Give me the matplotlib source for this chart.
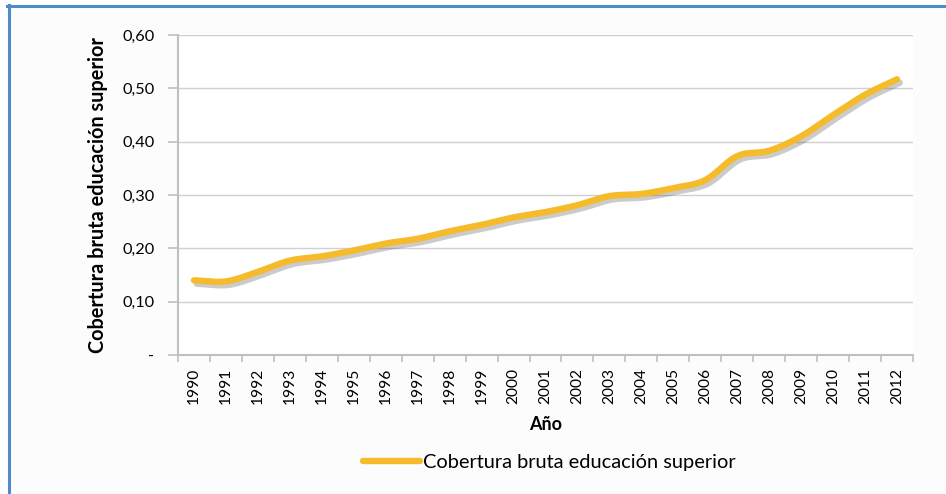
import numpy as np
import matplotlib
matplotlib.use("Agg")
import matplotlib.pyplot as plt
import matplotlib.patheffects as pe
from matplotlib.lines import Line2D
from matplotlib.patches import Rectangle

plt.rcParams['font.family'] = ['Lato', 'DejaVu Sans']

years = [str(y) for y in range(1990, 2013)]
cobertura = [0.140, 0.138, 0.156, 0.177, 0.185, 0.196, 0.209, 0.218, 0.232, 0.244,
             0.258, 0.268, 0.281, 0.298, 0.302, 0.313, 0.328, 0.373, 0.383, 0.410,
             0.450, 0.488, 0.517]
y_ticks = [0.0, 0.1, 0.2, 0.3, 0.4, 0.5, 0.6]
y_ticklabels = ['-', '0,10', '0,20', '0,30', '0,40', '0,50', '0,60']
series_name = 'Cobertura bruta educación superior'
x_label = 'Año'
y_label = 'Cobertura bruta educación superior'


def catmull_rom(x, y, n=20):
    x = np.asarray(x, float)
    y = np.asarray(y, float)
    px = np.concatenate([[2 * x[0] - x[1]], x, [2 * x[-1] - x[-2]]])
    py = np.concatenate([[2 * y[0] - y[1]], y, [2 * y[-1] - y[-2]]])
    xs, ys = [], []
    t = np.linspace(0, 1, n, endpoint=False)
    for i in range(1, len(px) - 2):
        for arr, out in ((px, xs), (py, ys)):
            p0, p1, p2, p3 = arr[i - 1], arr[i], arr[i + 1], arr[i + 2]
            out.append(0.5 * ((2 * p1) + (-p0 + p2) * t +
                              (2 * p0 - 5 * p1 + 4 * p2 - p3) * t ** 2 +
                              (-p0 + 3 * p1 - 3 * p2 + p3) * t ** 3))
    xs.append([x[-1]])
    ys.append([y[-1]])
    return np.concatenate(xs), np.concatenate(ys)


W, H = 946, 494
fig = plt.figure(figsize=(W / 100, H / 100), dpi=100, facecolor='white')

# chart background and blue border
fig.add_artist(Rectangle((7 / W, 0), 1 - 7 / W, 1 - 5 / H, transform=fig.transFigure,
                         facecolor='#fcfcfc', edgecolor='none', zorder=-10))
blue = '#4f8ac9'
fig.add_artist(Line2D([8.5 / W, 8.5 / W], [0, 1 - 5 / H], transform=fig.transFigure,
                      color=blue, lw=2.2))
fig.add_artist(Line2D([7 / W, 1], [1 - 6 / H, 1 - 6 / H], transform=fig.transFigure,
                      color=blue, lw=2.2))

left, right = 178 / W, 913 / W
bottom, top = 1 - 355 / H, 1 - 35 / H
ax = fig.add_axes([left, bottom, right - left, top - bottom])
ax.set_facecolor('white')

x = np.arange(len(years))
sx, sy = catmull_rom(x, cobertura)
ax.plot(sx, sy, color='#f5bb2b', lw=4.6, solid_capstyle='round', zorder=3,
        path_effects=[pe.SimpleLineShadow(offset=(2, -2.5), shadow_color='#555555', alpha=0.3),
                      pe.Normal()])

ax.set_xlim(-0.5, len(years) - 0.5)
ax.set_ylim(0, 0.6)
ax.set_yticks(y_ticks)
ax.set_yticklabels(y_ticklabels, fontsize=11)
ax.yaxis.grid(True, color='#d0d0d0', lw=1)
ax.set_axisbelow(True)

ax.set_xticks(x)
ax.set_xticklabels(years, rotation=90, fontsize=11)
ax.set_xticks(np.arange(-0.5, len(years), 1), minor=True)
ax.tick_params(axis='x', which='major', length=0, pad=9)
ax.tick_params(axis='x', which='minor', length=5, color='#bfbfbf', width=1.2)
ax.tick_params(axis='y', length=7, color='#bfbfbf', width=1.2, pad=10)

for s in ('top', 'right'):
    ax.spines[s].set_visible(False)
for s in ('left', 'bottom'):
    ax.spines[s].set_color('#bfbfbf')
    ax.spines[s].set_linewidth(1.5)

xl = ax.set_xlabel(x_label, fontsize=13, fontweight='bold', labelpad=9)
yl = ax.set_ylabel(y_label, fontsize=14.2, fontweight='bold', labelpad=10)

leg = fig.legend([Line2D([0], [0], color='#f5bb2b', lw=4.6, solid_capstyle='round')],
                 [series_name], loc='center', bbox_to_anchor=(549 / W, 1 - 462 / H),
                 frameon=False, fontsize=14.4, handlelength=2.85, handletextpad=0.15)

# fit text sizes to the reference's measured pixel lengths
fig.canvas.draw()
r = fig.canvas.get_renderer()
xt = ax.get_xticklabels()[0]
yt = ax.get_yticklabels()[1]
fx = 11 * 36 / xt.get_window_extent(r).height
fy = 11 * 32 / yt.get_window_extent(r).width
for t in ax.get_xticklabels():
    t.set_fontsize(fx)
for t in ax.get_yticklabels():
    t.set_fontsize(fy)
xl.set_fontsize(13 * 33 / xl.get_window_extent(r).width)
yl.set_fontsize(14.2 * 318 / yl.get_window_extent(r).height)
lt = leg.get_texts()[0]
lt.set_fontsize(14.4 * 312 / lt.get_window_extent(r).width)

fig.savefig('out.png', dpi=100, facecolor=fig.get_facecolor())
